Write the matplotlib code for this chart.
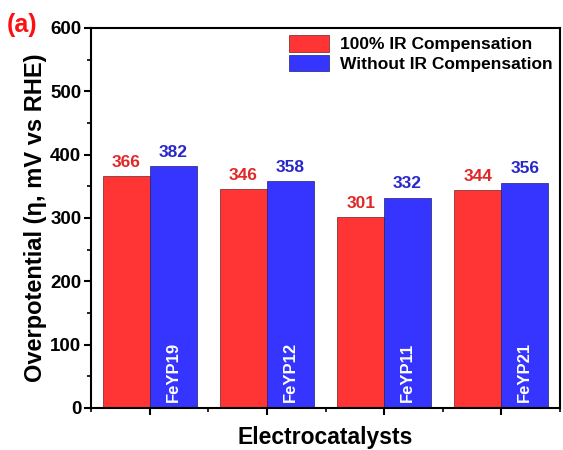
import matplotlib
matplotlib.use("Agg")
import matplotlib.pyplot as plt
from matplotlib.ticker import MultipleLocator, FixedLocator
import numpy as np

plt.rcParams['font.family'] = ['Liberation Sans', 'DejaVu Sans']
plt.rcParams['font.weight'] = 'bold'

categories = ["FeYP19", "FeYP12", "FeYP11", "FeYP21"]
with_ir = [366, 346, 301, 344]
without_ir = [382, 358, 332, 356]
series_names = ["100% IR Compensation", "Without IR Compensation"]

fig = plt.figure(figsize=(5.63, 4.5), dpi=100)
ax = fig.add_axes([91/563, 1-408/450, (560-91)/563, (408-28)/450])

x = np.arange(1, len(categories) + 1)
w = 0.4
red = '#FF3535'
blue = '#3535FF'
ax.bar(x - w/2, with_ir, w, color=red, edgecolor='#702020', linewidth=0.5, label=series_names[0])
ax.bar(x + w/2, without_ir, w, color=blue, edgecolor='#202070', linewidth=0.5, label=series_names[1])

for xi, v in zip(x - w/2, with_ir):
    ax.text(xi, v + 10, str(v), ha='center', va='bottom', color='#E02828', fontsize=12.5, fontweight='bold')
for xi, v in zip(x + w/2, without_ir):
    ax.text(xi, v + 10, str(v), ha='center', va='bottom', color='#2828C8', fontsize=12.5, fontweight='bold')

for xi, name in zip(x + w/2, categories):
    ax.text(xi, 10, name, rotation=90, ha='center', va='bottom', color='white', fontsize=12, fontweight='bold')

ax.set_xlim(0.5, 4.5)
ax.set_ylim(0, 600)
ax.yaxis.set_major_locator(MultipleLocator(100))
ax.yaxis.set_minor_locator(MultipleLocator(50))
ax.xaxis.set_major_locator(FixedLocator(x))
ax.xaxis.set_minor_locator(FixedLocator(np.arange(0.5, 4.6, 1.0)))
ax.set_xticklabels([])
ax.tick_params(axis='both', which='major', direction='out', length=5, width=1.5, labelsize=13.5, pad=2)
ax.tick_params(axis='both', which='minor', direction='out', length=3, width=1.2)
for lab in ax.get_yticklabels():
    lab.set_fontweight('bold')
for s in ax.spines.values():
    s.set_linewidth(1.5)

ax.set_ylabel("Overpotential (η, mV vs RHE)", fontsize=17, fontweight='bold', labelpad=2)
ax.set_xlabel("Electrocatalysts", fontsize=16.5, fontweight='bold', labelpad=6)

leg = ax.legend(loc='upper right', frameon=False, fontsize=12.5, handlelength=2.36, handleheight=1.1,
                handletextpad=0.63, labelspacing=0.15, borderaxespad=0.2, borderpad=0.2)
for t in leg.get_texts():
    t.set_fontweight('bold')

fig.text(7/563, 1-25/450, "(a)", color='#FF1010', fontsize=18, fontweight='bold', ha='left', va='center')

fig.savefig("out.png", dpi=100)
